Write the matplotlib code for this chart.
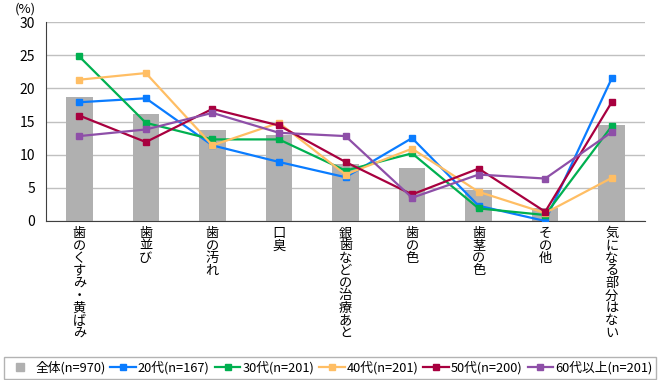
import matplotlib.pyplot as plt
from matplotlib.lines import Line2D
import numpy as np

plt.rcParams['font.family'] = ['Noto Sans CJK JP', 'DejaVu Sans']

categories = ["歯のくすみ・黄ばみ", "歯並び", "歯の汚れ", "口臭", "銀歯などの治療あと",
              "歯の色", "歯茎の色", "その他", "気になる部分はない"]

total = [18.7, 16.2, 13.7, 12.9, 8.6, 8.0, 4.7, 1.9, 14.4]
age20 = [17.9, 18.5, 11.4, 8.9, 6.6, 12.5, 2.3, 0.0, 21.5]
age30 = [24.8, 14.8, 12.3, 12.3, 7.6, 10.2, 1.9, 0.9, 14.3]
age40 = [21.3, 22.3, 11.4, 14.8, 7.0, 10.9, 4.4, 1.2, 6.5]
age50 = [15.9, 11.9, 16.9, 14.4, 8.9, 4.0, 7.9, 1.4, 17.9]
age60 = [12.8, 13.8, 16.3, 13.3, 12.8, 3.5, 7.0, 6.4, 13.4]

series = [
    ("20代(n=167)", age20, "#0a7cff"),
    ("30代(n=201)", age30, "#00b050"),
    ("40代(n=201)", age40, "#ffbe64"),
    ("50代(n=200)", age50, "#a8003f"),
    ("60代以上(n=201)", age60, "#8e4fa8"),
]
bar_color = "#b0b0b0"

fig = plt.figure(figsize=(6.6, 3.8), dpi=100)
ax = fig.add_axes([46 / 660, 1 - 221 / 380, 599 / 660, 199 / 380])

x = np.arange(len(categories))
ax.bar(x, total, width=0.4, color=bar_color, zorder=2)
handles = [Line2D([], [], ls="none", marker="s", markersize=6, color=bar_color)]
labels = ["全体(n=970)"]
for name, vals, col in series:
    ln, = ax.plot(x, vals, color=col, lw=1.6, marker="s", markersize=5, zorder=3)
    handles.append(ln)
    labels.append(name)

ax.set_xlim(-0.5, len(categories) - 0.5)
ax.set_ylim(0, 30)
ax.set_yticks(range(0, 31, 5))
ax.yaxis.grid(True, color="#c0c0c0", lw=1, zorder=0)
ax.set_axisbelow(True)
for s in ["top", "right"]:
    ax.spines[s].set_visible(False)
ax.spines["left"].set_color("#404040")
ax.spines["bottom"].set_color("#404040")
ax.tick_params(axis="y", length=0, labelsize=10, pad=8)
ax.tick_params(axis="x", length=0)
ax.set_xticks(x)
ax.set_xticklabels([])

for i, c in enumerate(categories):
    ax.text(i, -0.9, "\n".join(c), ha="center", va="top", fontsize=9.5,
            linespacing=0.95, transform=ax.transData, clip_on=False)

fig.text(15 / 660, 1 - 9 / 380, "(%)", fontsize=9.5, va="center")

fig.legend(handles, labels, loc="center", bbox_to_anchor=(0.5, 1 - 368 / 380), ncol=6,
           fontsize=9.2, frameon=True, fancybox=False, edgecolor="#a0a0a0",
           handlelength=2.0, handletextpad=0.15, columnspacing=0.4,
           borderpad=0.3, borderaxespad=0)

plt.savefig("out.png", dpi=100)
